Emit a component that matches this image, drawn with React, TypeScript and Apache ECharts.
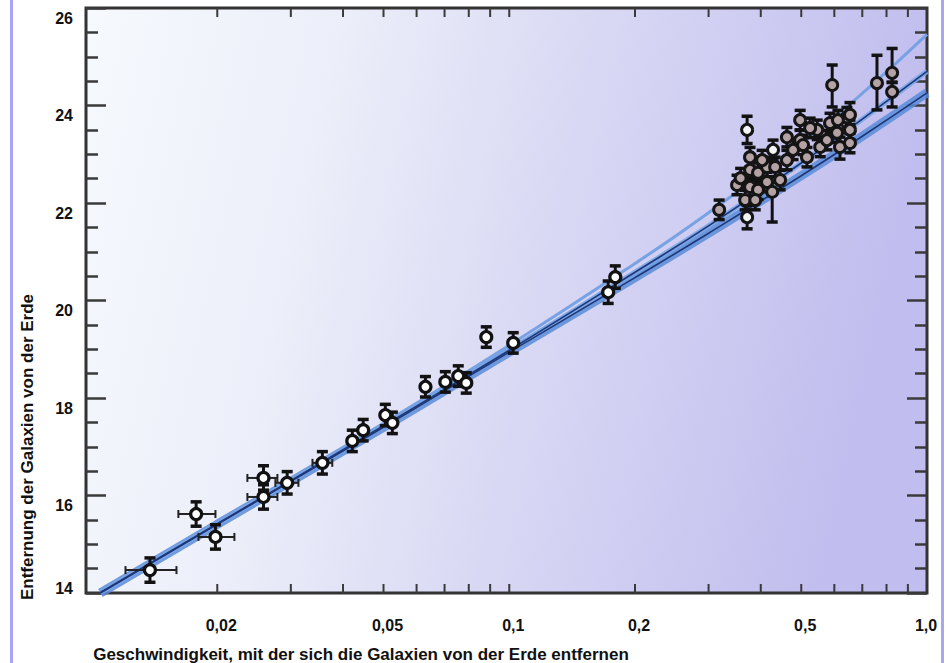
import React, { useEffect, useRef } from "react";
import * as echarts from "echarts";

// ---- axis ticks & labels ----
const yTickValues = [14, 16, 18, 20, 22, 24, 26];
const xLabelValues = [0.02, 0.05, 0.1, 0.2, 0.5, 1.0];
const xLabelTexts = ["0,02", "0,05", "0,1", "0,2", "0,5", "1,0"];
const xTickValues = [0.02, 0.03, 0.04, 0.05, 0.06, 0.07, 0.08, 0.09, 0.1, 0.2, 0.3, 0.4, 0.5, 0.6, 0.7, 0.8, 0.9];

// ---- nearby supernovae (white markers) ----
const nearZ = [0.0138, 0.0178, 0.0198, 0.0258, 0.0258, 0.0294, 0.0357, 0.0421, 0.0447, 0.0505, 0.0525, 0.063, 0.0703, 0.0755, 0.0789, 0.0881, 0.1022, 0.1725, 0.1794];
const nearMag = [14.47, 15.62, 15.15, 16.36, 15.97, 16.26, 16.67, 17.12, 17.34, 17.65, 17.49, 18.23, 18.33, 18.45, 18.31, 19.25, 19.13, 20.17, 20.48];
const nearMagErr = [0.25, 0.25, 0.25, 0.25, 0.25, 0.23, 0.23, 0.22, 0.22, 0.22, 0.22, 0.21, 0.21, 0.21, 0.21, 0.21, 0.21, 0.23, 0.23];
const nearZLow = [0.01206, 0.01614, 0.01803, 0.02361, 0.02361, 0.02755, 0.0338, null, null, null, null, null, null, null, null, null, null, null, null];
const nearZHigh = [0.01597, 0.0198, 0.02198, 0.02786, 0.02786, 0.03128, 0.0377, null, null, null, null, null, null, null, null, null, null, null, null];

// ---- distant supernovae (grey markers) ----
const farZ = [0.318, 0.351, 0.377, 0.377, 0.394, 0.394, 0.414, 0.414, 0.433, 0.426, 0.445, 0.462, 0.462, 0.478, 0.497, 0.497, 0.516, 0.546, 0.555, 0.586, 0.609, 0.619, 0.643, 0.654, 0.654, 0.593, 0.759, 0.825, 0.825, 0.654, 0.612, 0.576, 0.505, 0.403, 0.367, 0.388, 0.358, 0.377, 0.525];
const farMag = [21.86, 22.37, 22.68, 22.33, 22.62, 22.27, 22.74, 22.43, 22.74, 22.23, 22.47, 23.35, 22.88, 23.09, 23.7, 23.29, 22.94, 23.5, 23.15, 23.64, 23.44, 23.15, 23.76, 23.5, 23.23, 24.42, 24.46, 24.67, 24.28, 23.81, 23.7, 23.29, 23.19, 22.88, 22.06, 22.06, 22.51, 22.94, 23.54];
const farErrUp = [0.2, 0.2, 0.2, 0.2, 0.2, 0.2, 0.2, 0.2, 0.2, 0.2, 0.2, 0.2, 0.2, 0.2, 0.2, 0.2, 0.2, 0.2, 0.2, 0.2, 0.2, 0.2, 0.2, 0.2, 0.2, 0.41, 0.57, 0.5, 0.2, 0.25, 0.2, 0.2, 0.2, 0.2, 0.2, 0.2, 0.2, 0.2, 0.2];
const farErrDown = [0.2, 0.2, 0.2, 0.2, 0.2, 0.2, 0.2, 0.2, 0.2, 0.62, 0.2, 0.2, 0.2, 0.2, 0.2, 0.2, 0.2, 0.2, 0.2, 0.2, 0.2, 0.25, 0.2, 0.2, 0.2, 0.45, 0.55, 0.2, 0.31, 0.2, 0.2, 0.2, 0.2, 0.2, 0.2, 0.2, 0.2, 0.2, 0.2];

// ---- distant supernovae with bright markers ----
const brightZ = [0.371, 0.371, 0.428];
const brightMag = [23.5, 21.71, 23.09];
const brightErr = [0.28, 0.24, 0.2];

// ---- model curves ----
const modelZ = [0.0105, 0.02, 0.05, 0.1, 0.2, 0.3, 0.5, 0.7, 1.0];
const modelLambda = [14.02, 15.44, 17.48, 19.08, 20.76, 21.8, 23.22, 24.25, 25.46];
const modelEmpty = [14.01, 15.42, 17.43, 18.98, 20.58, 21.53, 22.82, 23.72, 24.7];
const modelMatter = [14.0, 15.41, 17.4, 18.94, 20.47, 21.38, 22.56, 23.37, 24.26];

const FONT = '"Liberation Sans", Arial, Helvetica, sans-serif';

function errorBarRender(params: any, api: any) {
  const x = api.value(0);
  const lo = api.value(2);
  const hi = api.value(3);
  const xl = api.value(4);
  const xh = api.value(5);
  const y = api.value(1);
  const pLo = api.coord([x, lo]);
  const pHi = api.coord([x, hi]);
  const cap = 5.5;
  const st = { stroke: "#121212", lineWidth: 3 };
  const cs = { stroke: "#121212", lineWidth: 3.5 };
  const children: any[] = [
    { type: "line", shape: { x1: pLo[0], y1: pLo[1], x2: pHi[0], y2: pHi[1] }, style: st },
    { type: "line", shape: { x1: pLo[0] - cap, y1: pLo[1], x2: pLo[0] + cap, y2: pLo[1] }, style: cs },
    { type: "line", shape: { x1: pHi[0] - cap, y1: pHi[1], x2: pHi[0] + cap, y2: pHi[1] }, style: cs },
  ];
  if (xl > 0 && xh > 0) {
    const a = api.coord([xl, y]);
    const b = api.coord([xh, y]);
    const hs = { stroke: "#222", lineWidth: 2 };
    children.push({ type: "line", shape: { x1: a[0], y1: a[1], x2: b[0], y2: b[1] }, style: hs });
    children.push({ type: "line", shape: { x1: a[0], y1: a[1] - 4, x2: a[0], y2: a[1] + 4 }, style: hs });
    children.push({ type: "line", shape: { x1: b[0], y1: b[1] - 4, x2: b[0], y2: b[1] + 4 }, style: hs });
  }
  return { type: "group", children };
}

export default function App() {
  const ref = useRef<HTMLDivElement>(null);
  useEffect(() => {
    if (!ref.current) return;
    const chart = echarts.init(ref.current, null, { renderer: "svg" });
    const yMin = yTickValues[0];
    const yMax = yTickValues[yTickValues.length - 1];

    const nearErrData = nearZ.map((z, i) => [z, nearMag[i], nearMag[i] - nearMagErr[i], nearMag[i] + nearMagErr[i], nearZLow[i], nearZHigh[i]]);
    const farErrData = farZ.map((z, i) => [z, farMag[i], farMag[i] - farErrDown[i], farMag[i] + farErrUp[i], null, null]);
    const brightErrData = brightZ.map((z, i) => [z, brightMag[i], brightMag[i] - brightErr[i], brightMag[i] + brightErr[i], null, null]);

    const lineData = (arr: number[]) => modelZ.map((z, i) => [z, arr[i]]);

    const yAxisCommon = {
      type: "value",
      min: yMin,
      max: yMax,
      interval: 2,
      axisLine: { show: false },
      splitLine: { show: false },
      axisTick: { show: true, inside: true, length: 20, lineStyle: { color: "#3a3a3a", width: 2.5 } },
      minorTick: { show: true, splitNumber: 4, length: 12, lineStyle: { color: "#3a3a3a", width: 2.5 } },
    };

    const option: any = {
      animation: false,
      backgroundColor: "#ffffff",
      grid: {
        left: 86,
        right: 25,
        top: 8,
        bottom: 70,
        show: true,
        borderColor: "#333333",
        borderWidth: 3,
        backgroundColor: new echarts.graphic.LinearGradient(0, 0, 1, 0.15, [
          { offset: 0, color: "#f6f9fd" },
          { offset: 0.3, color: "#eceef9" },
          { offset: 0.6, color: "#d9d8f4" },
          { offset: 1, color: "#c1bdee" },
        ]),
      },
      xAxis: {
        type: "log",
        logBase: 10,
        min: 0.0097,
        max: 1.0,
        axisLine: { show: false },
        axisTick: { show: false },
        axisLabel: { show: false },
        splitLine: { show: false },
        minorTick: { show: false },
      },
      yAxis: [
        {
          ...yAxisCommon,
          position: "left",
          axisLabel: {
            margin: 13,
            formatter: (v: number) => (v === yMin ? `{lo|${v}}` : `{hi|${v}}`),
            rich: {
              lo: { padding: [0, 0, 10, 0], fontSize: 16, fontWeight: "bold", fontFamily: FONT, color: "#111" },
              hi: { padding: [20, 0, 0, 0], fontSize: 16, fontWeight: "bold", fontFamily: FONT, color: "#111" },
            },
          },
        },
        {
          ...yAxisCommon,
          position: "right",
          axisLabel: { show: false },
        },
      ],
      series: [
        // model curves: light halos
        {
          type: "line", data: lineData(modelMatter), showSymbol: false, smooth: true, z: 1,
          lineStyle: { color: "#5a8cd8", width: 9, opacity: 0.85 },
        },
        {
          type: "line", data: lineData(modelEmpty), showSymbol: false, smooth: true, z: 1,
          lineStyle: { color: "#7aa5e6", width: 5, opacity: 0.9 },
        },
        {
          type: "line", data: lineData(modelLambda), showSymbol: false, smooth: true, z: 1,
          lineStyle: { color: "#78a2e4", width: 3 },
        },
        // dark centre lines
        {
          type: "line", data: lineData(modelMatter), showSymbol: false, smooth: true, z: 2,
          lineStyle: { color: "#1c387a", width: 1.6 },
        },
        {
          type: "line", data: lineData(modelEmpty), showSymbol: false, smooth: true, z: 2,
          lineStyle: { color: "#1c387a", width: 1.6 },
        },
        // error bars
        { type: "custom", z: 3, renderItem: errorBarRender, data: nearErrData },
        { type: "custom", z: 3, renderItem: errorBarRender, data: farErrData },
        { type: "custom", z: 3, renderItem: errorBarRender, data: brightErrData },
        // markers
        {
          type: "scatter", z: 4, symbol: "circle", symbolSize: 11,
          data: nearZ.map((z, i) => [z, nearMag[i]]),
          itemStyle: { color: "#ffffff", borderColor: "#111", borderWidth: 3.2, opacity: 1 },
        },
        {
          type: "scatter", z: 4, symbol: "circle", symbolSize: 11,
          data: farZ.map((z, i) => [z, farMag[i]]),
          itemStyle: { color: "#b5a2a5", borderColor: "#151515", borderWidth: 3, opacity: 1 },
        },
        {
          type: "scatter", z: 4, symbol: "circle", symbolSize: 11,
          data: brightZ.map((z, i) => [z, brightMag[i]]),
          itemStyle: { color: "#f4f4f4", borderColor: "#151515", borderWidth: 3, opacity: 1 },
        },
        // x ticks (bottom, pointing up; top, pointing down)
        {
          type: "custom", z: 5, silent: true,
          data: xTickValues.map((v) => [v, yMin]),
          renderItem: (params: any, api: any) => {
            const v = api.value(0);
            const b = api.coord([v, yMin]);
            const t = api.coord([v, yMax]);
            const st = { stroke: "#3a3a3a", lineWidth: 2 };
            return {
              type: "group",
              children: [
                { type: "line", shape: { x1: b[0], y1: b[1], x2: b[0], y2: b[1] - 9 }, style: st },
                { type: "line", shape: { x1: t[0], y1: t[1], x2: t[0], y2: t[1] + 9 }, style: st },
              ],
            };
          },
        },
        // x labels
        {
          type: "custom", z: 5, silent: true,
          data: xLabelValues.map((v, i) => [v, yMin, i]),
          renderItem: (params: any, api: any) => {
            const v = api.value(0);
            const idx = api.value(2);
            const b = api.coord([v, yMin]);
            const last = idx === xLabelValues.length - 1;
            return {
              type: "text",
              x: last ? b[0] - 1 : b[0] + 4,
              y: b[1] + 32,
              style: {
                text: xLabelTexts[idx],
                fill: "#111",
                font: `bold 16px ${FONT}`,
                align: "center",
                verticalAlign: "middle",
              },
            };
          },
        },
      ],
      graphic: [
        {
          type: "rect",
          shape: { x: 11.5, y: -10, width: 931, height: 690 },
          style: { fill: null, stroke: "#a6a6f2", lineWidth: 3 },
          silent: true,
        },
        {
          type: "text",
          x: 361,
          y: 654,
          style: {
            text: "Geschwindigkeit, mit der sich die Galaxien von der Erde entfernen",
            fill: "#111",
            font: `bold 17px ${FONT}`,
            align: "center",
            verticalAlign: "middle",
          },
        },
        {
          type: "text",
          x: 27,
          y: 447,
          rotation: Math.PI / 2,
          style: {
            text: "Entfernung der Galaxien von der Erde",
            fill: "#111",
            font: `bold 17px ${FONT}`,
            align: "center",
            verticalAlign: "middle",
          },
        },
      ],
    };
    chart.setOption(option);
    return () => chart.dispose();
  }, []);
  return <div ref={ref} style={{ position: "fixed", left: 0, top: 0, width: 952, height: 663 }} />;
}
